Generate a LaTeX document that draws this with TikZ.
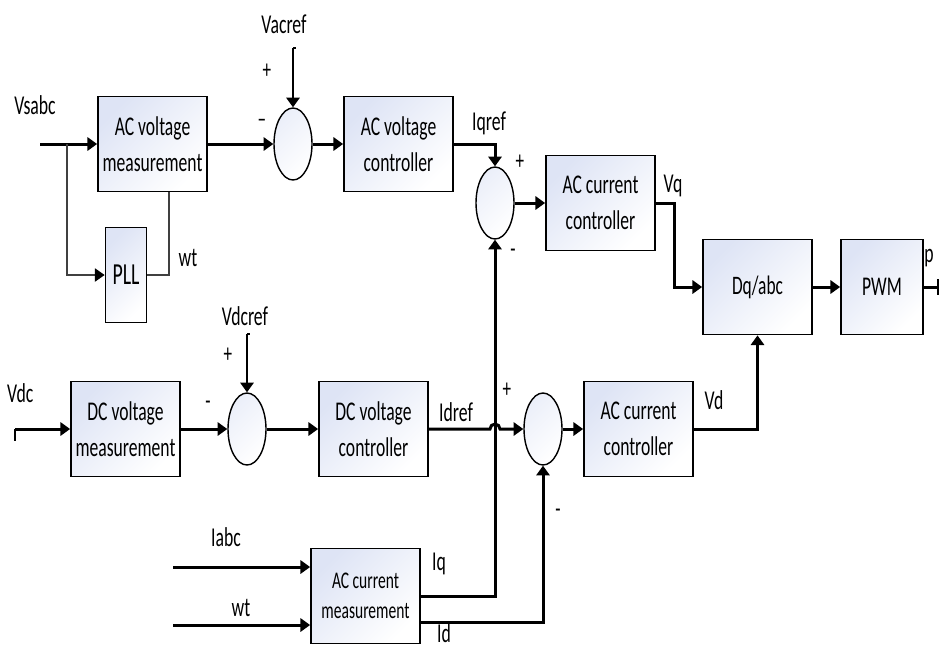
\documentclass[tikz,border=0pt]{standalone}
\usepackage{fontspec}
\setmainfont{Carlito}[FakeStretch=0.65]
\usetikzlibrary{arrows.meta,shapes.geometric}
\definecolor{boxfill}{RGB}{222,228,245}

\tikzset{
  block/.style={draw, line width=1pt, minimum width=2.18cm, minimum height=1.9cm,
    align=center, inner sep=1pt, top color=boxfill, bottom color=white, shading angle=45},
  sum/.style={ellipse, draw, line width=0.8pt, minimum width=0.76cm, minimum height=1.44cm,
    inner sep=0pt, top color=boxfill!60, bottom color=white, shading angle=45},
  sig/.style={line width=1.7pt, -{Triangle[length=5.5pt,width=7.5pt]}},
  thinsig/.style={line width=0.7pt, draw=black!75},
  lbl/.style={font=\fontsize{15.5}{17}\selectfont},
  sgn/.style={font=\fontsize{15}{17}\selectfont}
}

\begin{document}
\begin{tikzpicture}[x=0.02cm,y=-0.02cm,font=\fontsize{15.4}{20.5}\selectfont]
  \useasboundingbox (0,0) rectangle (939,647);
  % blocks
  \node[block] (acvm) at (152.5,144) {AC voltage\\measurement};
  \node[sum] (sum1) at (293,144) {};
  \node[block] (acvc) at (398.5,144) {AC voltage\\controller};
  \node[block, minimum width=0.82cm, font=\fontsize{17.4}{20}\selectfont] (pll) at (126,275) {PLL};
  \node[sum] (sum2) at (495,203) {};
  \node[block] (accq) at (600.5,203) {AC current\\controller};
  \node[block, font=\fontsize{15.2}{18}\selectfont] (dqabc) at (757.5,287) {Dq/abc};
  \node[block, minimum width=1.64cm, font=\fontsize{15.4}{18}\selectfont] (pwm) at (882,287) {PWM};
  \node[block] (dcvm) at (125.5,429) {DC voltage\\measurement};
  \node[sum] (sum3) at (247,429) {};
  \node[block] (dcvc) at (373.5,429) {DC voltage\\controller};
  \node[sum] (sum4) at (543,429) {};
  \node[block] (accd) at (638.5,429) {AC current\\controller};
  \node[block, font=\fontsize{13.6}{17}\selectfont] (acm) at (365.5,596) {AC current\\measurement};
  % free ends
  \coordinate (vsin) at (40,144);
  \coordinate (br) at (67,144);
  \coordinate (wt) at (169,275);
  \coordinate (vacin) at (293,48);
  \coordinate (pout) at (938,287);
  \coordinate (vdcin) at (15,429);
  \coordinate (vdcrefin) at (247,334);
  \coordinate (jump) at (490,429);
  \coordinate (iabcin) at (173,567);
  \coordinate (wtin) at (173,625);
  % ac voltage loop
  \draw[sig] (vsin) -- (acvm.west);
  \draw[thinsig, -{Triangle[length=5.5pt,width=7.5pt,color=black]}] (br) |- (pll.west);
  \draw[thinsig] (pll.east) -- (wt) -- (wt |- acvm.south);
  \draw[sig] (acvm.east) -- (sum1.west);
  \draw[sig] (vacin) -- (sum1.north);
  \draw[line width=1pt] (vacin) -- ++(3,0);
  \draw[sig] (sum1.east) -- (acvc.west);
  \draw[sig] (acvc.east) -| (sum2.north);
  \draw[sig] (sum2.east) -- (accq.west);
  \draw[sig] (accq.east) -- ++(19,0) |- (dqabc.west);
  \draw[sig] (dqabc.east) -- (pwm.west);
  \draw[line width=1.7pt] (pwm.east) -- (pout);
  \draw[line width=1pt] (938,279) -- (938,295);
  % dc voltage loop
  \draw[sig] (vdcin) -- (dcvm.west);
  \draw[line width=1pt] (vdcin) -- ++(0,12);
  \draw[sig] (dcvm.east) -- (sum3.west);
  \draw[sig] (vdcrefin) -- (sum3.north);
  \draw[line width=1pt] (vdcrefin) -- ++(3,0);
  \draw[sig] (sum3.east) -- (dcvc.west);
  \draw[sig] (dcvc.east) -- (jump) arc (180:360:5) -- (sum4.west);
  \draw[sig] (sum4.east) -- (accd.west);
  \draw[sig] (accd.east) -| (dqabc.south);
  % current measurement
  \draw[sig] (iabcin) -- (iabcin -| acm.west);
  \draw[sig] (wtin) -- (wtin -| acm.west);
  \draw[sig] (acm.east) -| (sum2.south);
  \draw[sig] (acm.east |- 0,622) -| (sum4.south);
  % labels
  \foreach \n/\x/\y/\t in {lvsabc/35/105/Vsabc, lwt/188/258/wt, lvacref/284/24/Vacref,
      liqref/489/123/Iqref, lvq/673/186/Vq, lp/929/258/p, lvdcref/245/316/Vdcref,
      lidref/456/412/Idref, lvd/714/400/Vd, liabc/226/537/Iabc, lwtb/241/608/wt,
      liq/439/564/Iq, lid/444/633/Id}
    \node[lbl] (\n) at (\x,\y) {\t};
  \node[lbl, anchor=west] (lvdc) at (1,393) {Vdc};
  \foreach \n/\x/\y/\t in {sp1/267/71/+, sm1/262/123/--, sp2/520/162/+, sm2/513/253/-,
      sp3/228/355/+, sm3/208/405/-, sp4/507/390/+, sm4/558/513/-}
    \node[sgn] (\n) at (\x,\y) {\t};
\end{tikzpicture}
\end{document}
